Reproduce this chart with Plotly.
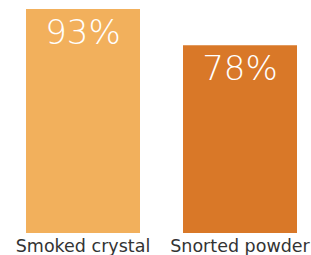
import plotly.graph_objects as go

categories = ["Smoked crystal", "Snorted powder"]
values = [93, 78]
colors = ["#F2B05C", "#D97828"]

fig = go.Figure(go.Bar(
    x=categories,
    y=values,
    marker=dict(color=colors, line=dict(width=0)),
    width=0.726,
    text=[f"{v}%" for v in values],
    textposition="inside",
    insidetextanchor="end",
    textfont=dict(color="white", size=34, family="DejaVu Sans", weight=200),
    textangle=0,
    hoverinfo="skip",
))

fig.update_layout(
    width=311, height=255,
    margin=dict(l=0, r=0, t=9, b=22),
    paper_bgcolor="white", plot_bgcolor="white",
    showlegend=False,
    uniformtext=dict(mode=False),
    xaxis=dict(range=[-0.5287, 1.4522], showgrid=False, zeroline=False, showline=False,
               ticks="", automargin=False, ticklabelstandoff=0,
               tickfont=dict(size=17.5, color="#333333", family="DejaVu Sans")),
    yaxis=dict(range=[0, 93], visible=False, showgrid=False, zeroline=False),
)

fig.write_html("out.html", config={"displayModeBar": False},
               post_script="document.body.style.margin='0';")
